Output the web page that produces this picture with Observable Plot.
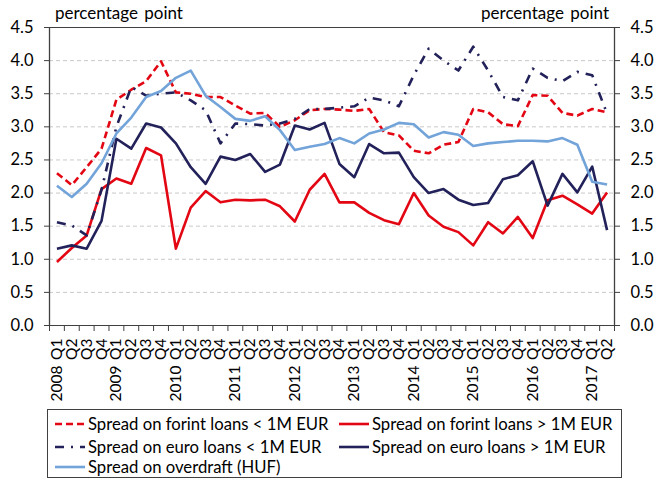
<!DOCTYPE html>
<html><head><meta charset="utf-8">
<script src="https://cdn.jsdelivr.net/npm/d3@7"></script>
<script src="https://cdn.jsdelivr.net/npm/@observablehq/plot@0.6"></script>
<style>
body{margin:0;background:#fff;font-family:Lato,"Open Sans",sans-serif;}
#wrap{position:relative;width:658px;height:480px;overflow:hidden;}
#wrap svg{position:absolute;left:0;top:0;}
.unit{position:absolute;top:3px;font-size:17px;line-height:20px;color:#000;white-space:nowrap;word-spacing:2px;}
#legend{position:absolute;left:47px;top:409px;width:575px;height:69px;border:1px solid #404040;box-sizing:border-box;font-size:16.7px;color:#000;}
.item{position:absolute;height:22px;line-height:22px;white-space:nowrap;display:flex;align-items:center;}
.item svg{position:static !important;margin-right:3px;}
</style></head><body>
<div id="wrap"></div>
<script>
const years = ["2008","2009","2010","2011","2012","2013","2014","2015","2016","2017"];
const quarters = ["Q1","Q2","Q3","Q4"];
const unitLabel = "percentage point";
const yTicks = [0,0.5,1,1.5,2,2.5,3,3.5,4,4.5];

const forintSmall = [2.30,2.12,2.39,2.67,3.41,3.56,3.69,3.99,3.52,3.50,3.45,3.45,3.32,3.20,3.21,3.00,3.10,3.25,3.27,3.26,3.24,3.27,2.92,2.87,2.64,2.60,2.73,2.77,3.27,3.22,3.04,3.01,3.48,3.47,3.21,3.17,3.27,3.22];
const forintLarge = [0.96,1.17,1.36,2.06,2.22,2.14,2.68,2.57,1.16,1.78,2.03,1.86,1.90,1.89,1.90,1.80,1.57,2.05,2.29,1.86,1.86,1.70,1.59,1.53,2.00,1.66,1.49,1.41,1.21,1.56,1.39,1.64,1.32,1.89,1.96,1.83,1.69,2.01];
const euroSmall = [1.56,1.51,1.36,2.05,3.00,3.60,3.47,3.50,3.52,3.40,3.25,2.75,3.05,3.04,3.02,3.05,3.12,3.27,3.27,3.29,3.31,3.44,3.40,3.31,3.78,4.18,4.00,3.85,4.21,3.85,3.45,3.40,3.88,3.74,3.69,3.83,3.78,3.20];
const euroLarge = [1.16,1.21,1.16,1.58,2.82,2.67,3.05,2.99,2.75,2.39,2.14,2.55,2.50,2.59,2.32,2.43,3.02,2.96,3.06,2.44,2.24,2.74,2.60,2.61,2.24,2.00,2.06,1.90,1.82,1.85,2.21,2.27,2.48,1.81,2.29,2.01,2.40,1.44];
const overdraft = [2.11,1.94,2.14,2.45,2.90,3.14,3.45,3.54,3.74,3.85,3.47,3.30,3.12,3.09,3.16,2.95,2.65,2.70,2.74,2.83,2.75,2.90,2.96,3.06,3.04,2.84,2.92,2.88,2.71,2.75,2.77,2.79,2.79,2.78,2.83,2.73,2.17,2.13];

const seriesNames = ["Spread on forint loans < 1M EUR","Spread on forint loans > 1M EUR","Spread on euro loans < 1M EUR","Spread on euro loans > 1M EUR","Spread on overdraft (HUF)"];
const RED = "#e30613", NAVY = "#22215a", LIGHT = "#72a3d9", AXIS = "#404040";
const styles = [
  {stroke: RED, dash: "7,4"},
  {stroke: RED, dash: null},
  {stroke: NAVY, dash: "9,7,2,7"},
  {stroke: NAVY, dash: null},
  {stroke: LIGHT, dash: null}
];
const seriesData = [forintSmall, forintLarge, euroSmall, euroLarge, overdraft];

const n = forintSmall.length;
const cats = [];
for (const y of years) for (const q of quarters) if (cats.length < n) cats.push({year: y, q});
const centers = cats.map((c, i) => i + 0.5);
const q1Centers = centers.filter((c, i) => cats[i].q === "Q1");
const bounds = d3.range(n + 1);

const lineMarks = seriesData.map((vals, k) =>
  Plot.line(vals, {x: (d, i) => i + 0.5, y: d => d, stroke: styles[k].stroke, strokeWidth: 2.6,
    strokeDasharray: styles[k].dash, strokeLinejoin: "round", strokeLinecap: "butt"}));

const chart = Plot.plot({
  width: 658, height: 402,
  marginLeft: 49, marginRight: 44, marginTop: 27, marginBottom: 77,
  x: {domain: [0, n], axis: null},
  y: {domain: [0, 4.5], axis: null},
  style: {fontFamily: "Lato, 'Open Sans', sans-serif", fontSize: "15.5px", color: "#000", background: "#fff"},
  marks: [
    Plot.ruleY(yTicks.filter(t => t > 0 && t < 4.5), {stroke: "#c9c9c9", strokeDasharray: "4,3", strokeWidth: 1}),
    ...lineMarks,
    Plot.ruleX([0, n], {y1: 0, y2: 4.5, stroke: AXIS, strokeWidth: 1.3}),
    Plot.ruleY([0, 4.5], {stroke: AXIS, strokeWidth: 1.1}),
    Plot.axisY({anchor: "left", ticks: yTicks, tickFormat: d3.format(".1f"), tickSize: 5, tickPadding: 11, stroke: AXIS, label: null, fontSize: 16.5}),
    Plot.axisY({anchor: "right", ticks: yTicks, tickFormat: d3.format(".1f"), tickSize: 5, tickPadding: 11, stroke: AXIS, label: null, fontSize: 16.5}),
    Plot.axisX({ticks: bounds, tickFormat: () => "", tickSize: 6, stroke: AXIS, label: null}),
    Plot.axisX({ticks: centers, tickFormat: (d) => cats[Math.round(d - 0.5)].q, tickSize: 0, tickPadding: 13, tickRotate: -90, label: null, fontSize: 15.5}),
    Plot.axisX({ticks: q1Centers, tickFormat: (d) => cats[Math.round(d - 0.5)].year, tickSize: 0, tickPadding: 40, tickRotate: -90, label: null, fontSize: 15.5})
  ]
});

const wrap = document.getElementById("wrap");
wrap.appendChild(chart);

const ul = document.createElement("div");
ul.className = "unit"; ul.style.left = "55px"; ul.textContent = unitLabel;
wrap.appendChild(ul);
const ur = document.createElement("div");
ur.className = "unit"; ur.style.right = (658 - 609) + "px"; ur.textContent = unitLabel;
wrap.appendChild(ur);

const legend = document.createElement("div");
legend.id = "legend";
const pos = [[7, 3], [291, 3], [7, 25.5], [291, 25.5], [7, 46]];
seriesNames.forEach((name, k) => {
  const it = document.createElement("div");
  it.className = "item";
  it.style.left = pos[k][0] + "px"; it.style.top = pos[k][1] + "px";
  const s = styles[k];
  it.innerHTML = `<svg width="30" height="10"><line x1="0" x2="30" y1="5" y2="5" stroke="${s.stroke}" stroke-width="2.6" ${s.dash ? `stroke-dasharray="${s.dash}"` : ""}/></svg><span>${name}</span>`;
  legend.appendChild(it);
});
wrap.appendChild(legend);
</script>
</body></html>
